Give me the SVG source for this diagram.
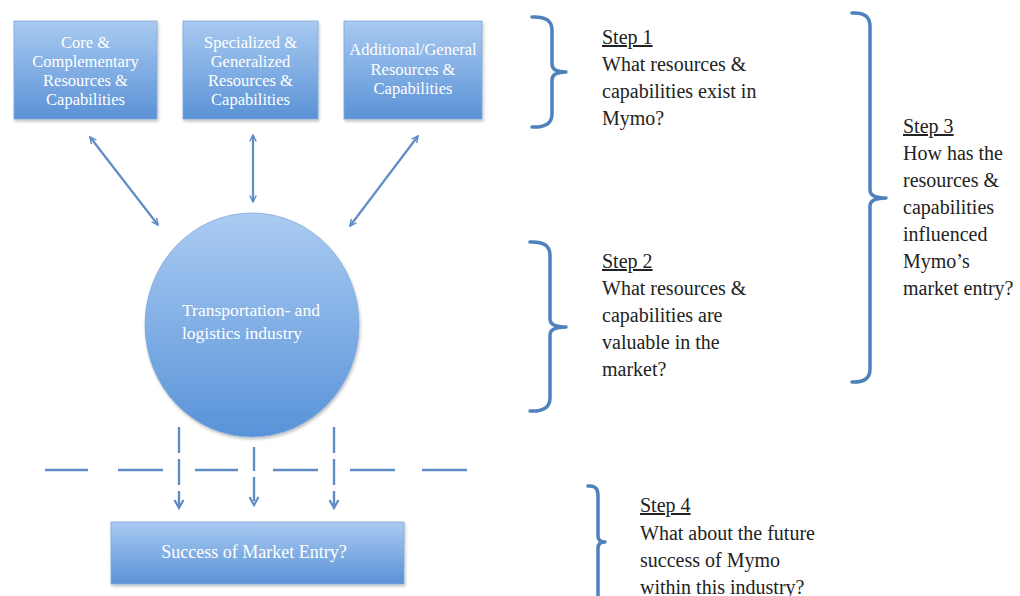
<svg xmlns="http://www.w3.org/2000/svg" width="1020" height="596" viewBox="0 0 1020 596">
<defs>
<linearGradient id="gBox" x1="0" y1="0" x2="0" y2="1">
<stop offset="0" stop-color="#a9caf1"/>
<stop offset="1" stop-color="#5a92d6"/>
</linearGradient>
<linearGradient id="gCirc" x1="0" y1="0" x2="0" y2="1">
<stop offset="0" stop-color="#abcbf2"/>
<stop offset="1" stop-color="#5893d8"/>
</linearGradient>
<marker id="ah" viewBox="0 0 10 10" refX="9" refY="5" markerWidth="8" markerHeight="8" orient="auto-start-reverse" markerUnits="userSpaceOnUse">
<path d="M1,1 L9,5 L1,9" fill="none" stroke="#5f8cc4" stroke-width="1.8"/>
</marker>
<filter id="sh" x="-10%" y="-10%" width="130%" height="130%">
<feDropShadow dx="1" dy="2" stdDeviation="1.5" flood-color="#000" flood-opacity="0.25"/>
</filter>
</defs>
<style>
.box{fill:url(#gBox);stroke:#7fa7d8;stroke-width:0.8;filter:url(#sh)}
.bt{font-family:"Liberation Serif",serif;font-size:16.5px;fill:#ffffff;text-anchor:middle}
.st{font-family:"Liberation Serif",serif;font-size:20px;fill:#222222}
.u{text-decoration:underline}
.arr{stroke:#5f8cc4;stroke-width:2.2;fill:none}
.dash{stroke:#5f8cc4;stroke-width:2.4;fill:none}
.head{stroke:#5f8cc4;stroke-width:2.2;fill:none;stroke-linejoin:miter}
.br{stroke:#4f81bd;stroke-width:3.5;fill:none;stroke-linecap:round;stroke-linejoin:round}
</style>

<g id="node-core">
<rect class="box" x="14" y="21" width="143" height="98"/>
<text class="bt" x="85.5" y="48">Core &amp;</text>
<text class="bt" x="85.5" y="67">Complementary</text>
<text class="bt" x="85.5" y="86">Resources &amp;</text>
<text class="bt" x="85.5" y="105">Capabilities</text>
</g>
<g id="node-specialized">
<rect class="box" x="183" y="21" width="135" height="98"/>
<text class="bt" x="250.5" y="48">Specialized &amp;</text>
<text class="bt" x="250.5" y="67">Generalized</text>
<text class="bt" x="250.5" y="86">Resources &amp;</text>
<text class="bt" x="250.5" y="105">Capabilities</text>
</g>
<g id="node-additional">
<rect class="box" x="344" y="21" width="138" height="98"/>
<text class="bt" x="413" y="55">Additional/General</text>
<text class="bt" x="413" y="75">Resources &amp;</text>
<text class="bt" x="413" y="94">Capabilities</text>
</g>
<g id="node-industry">
<ellipse cx="252" cy="325" rx="107" ry="112" fill="url(#gCirc)" stroke="#7fa7d8" stroke-width="0.8" filter="url(#sh)"/>
<text x="182" y="316" font-family="Liberation Serif, serif" font-size="17.5" fill="#ffffff">Transportation- and</text>
<text x="182" y="339" font-family="Liberation Serif, serif" font-size="17.5" fill="#ffffff">logistics industry</text>
</g>
<g id="node-success">
<rect class="box" x="111" y="522" width="293" height="62"/>
<text x="254" y="558" font-family="Liberation Serif, serif" font-size="18" fill="#ffffff" text-anchor="middle">Success of Market Entry?</text>
</g>

<g id="connectors">
<line class="arr" x1="90" y1="137" x2="158" y2="225" marker-start="url(#ah)" marker-end="url(#ah)"/>
<line class="arr" x1="253" y1="135" x2="253" y2="202" marker-start="url(#ah)" marker-end="url(#ah)"/>
<line class="arr" x1="418" y1="136" x2="350" y2="226" marker-start="url(#ah)" marker-end="url(#ah)"/>
<line class="dash" x1="179" y1="427" x2="179" y2="507" stroke-dasharray="26 6"/>
<path class="head" d="M174.5,500 L179,508 L183.5,500"/>
<line class="dash" x1="254" y1="447" x2="254" y2="505" stroke-dasharray="24 6"/>
<path class="head" d="M249.5,497 L254,505 L258.5,497"/>
<line class="dash" x1="334" y1="427" x2="334" y2="507" stroke-dasharray="26 6"/>
<path class="head" d="M329.5,500 L334,508 L338.5,500"/>
<path class="dash" d="M45,470 H88 M118,470 H163 M195,470 H238 M273,470 H318 M350,470 H395 M422,470 H467"/>
</g>

<g id="step1">
<path class="br" d="M532,17 Q552,16 552,30 L552,64 Q552,72 566,72 Q552,72 552,80 L552,114 Q552,128 532,127"/>
<text class="st u" x="602" y="44">Step 1</text>
<text class="st" x="602" y="71">What resources &amp;</text>
<text class="st" x="602" y="98">capabilities exist in</text>
<text class="st" x="602" y="125">Mymo?</text>
</g>
<g id="step2">
<path class="br" d="M530,242 Q550,241 550,255 L550,319 Q550,327 566,327 Q550,327 550,335 L550,398 Q550,412 530,411"/>
<text class="st u" x="602" y="268">Step 2</text>
<text class="st" x="602" y="295">What resources &amp;</text>
<text class="st" x="602" y="322">capabilities are</text>
<text class="st" x="602" y="349">valuable in the</text>
<text class="st" x="602" y="376">market?</text>
</g>
<g id="step3">
<path class="br" d="M852,13 Q870,12 870,26 L870,190 Q870,198 886,198 Q870,198 870,206 L870,369 Q870,383 852,382"/>
<text class="st u" x="903" y="133">Step 3</text>
<text class="st" x="903" y="160">How has the</text>
<text class="st" x="903" y="187">resources &amp;</text>
<text class="st" x="903" y="214">capabilities</text>
<text class="st" x="903" y="241">influenced</text>
<text class="st" x="903" y="268">Mymo’s</text>
<text class="st" x="903" y="295">market entry?</text>
</g>
<g id="step4">
<path class="br" d="M588,486 Q598,485 598,495 L598,536 Q598,542 605,542 Q598,542 598,548 L598,600"/>
<text class="st u" x="640" y="512">Step 4</text>
<text class="st" x="640" y="540">What about the future</text>
<text class="st" x="640" y="567">success of Mymo</text>
<text class="st" x="640" y="594">within this industry?</text>
</g>
</svg>
